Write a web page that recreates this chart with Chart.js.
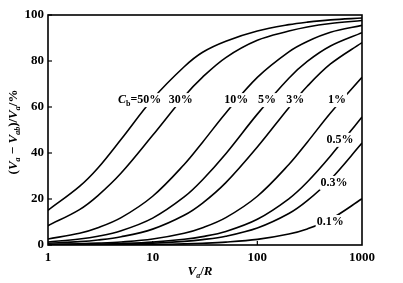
<!DOCTYPE html>
<html lang="en">
<head>
<meta charset="UTF-8">
<title>Curvas</title>
<script src="https://cdn.jsdelivr.net/npm/chart.js"></script>
<style>
  html, body { margin: 0; padding: 0; background: #fff; }
</style>
</head>
<body>
<canvas id="grafico" width="403" height="283"></canvas>
<script>
// valores (eixo x logaritmico)
const xVals = [1, 2, 3, 5, 10, 20, 30, 50, 100, 200, 300, 500, 1000];
const serieNomes = ["50%", "30%", "10%", "5%", "3%", "1%", "0.5%", "0.3%", "0.1%"];
const c50 = [15.1, 25.5, 33.5, 46, 63.5, 77.5, 83.8, 88.6, 93, 95.8, 96.9, 97.9, 98.7];
const c30 = [8.4, 15.4, 21.5, 31.3, 47.7, 64.6, 73, 81.5, 89, 93, 94.8, 96.3, 97.6];
const c10 = [2.6, 5.1, 7.5, 11.9, 21.2, 35, 44.7, 57.4, 72.9, 84, 88.5, 92.5, 95.5];
const c5 = [1.3, 2.6, 3.8, 6.2, 11.7, 20.9, 28.4, 39.7, 56.9, 72.5, 79.8, 86.5, 92.3];
const c3 = [0.74, 1.47, 2.18, 3.6, 6.9, 12.9, 18.2, 27.1, 42.6, 59.7, 69, 78.7, 88];
const c1 = [0.27, 0.54, 0.8, 1.33, 2.6, 5.1, 7.5, 11.9, 21.2, 35, 44.7, 57.4, 72.9];
const c05 = [0.13, 0.25, 0.38, 0.63, 1.25, 2.47, 3.65, 5.9, 11.2, 20.1, 27.4, 38.7, 55.7];
const c03 = [0.08, 0.16, 0.24, 0.4, 0.79, 1.57, 2.34, 3.83, 7.4, 13.7, 19.3, 28.5, 44.3];
const c01 = [0.03, 0.05, 0.08, 0.13, 0.25, 0.5, 0.75, 1.25, 2.46, 4.8, 7, 11.2, 20.1];
const xTicks = [1, 10, 100, 1000];
const yTicks = [0, 20, 40, 60, 80, 100];

const series = [c50, c30, c10, c5, c3, c1, c05, c03, c01];

// rotulos das curvas (posicao em coordenadas dos dados)
const rotulos = [
    { partes: [{ t: "C", i: 1 }, { t: "b", sub: 1 }, { t: "=50%" }], x: 7.5, y: 63 },
    { partes: [{ t: "30%" }], x: 18.5, y: 63 },
    { partes: [{ t: "10%" }], x: 63, y: 63 },
    { partes: [{ t: "5%" }], x: 124, y: 63 },
    { partes: [{ t: "3%" }], x: 230, y: 63 },
    { partes: [{ t: "1%" }], x: 578, y: 63 },
    { partes: [{ t: "0.5%" }], x: 617, y: 45.7 },
    { partes: [{ t: "0.3%" }], x: 541, y: 27 },
    { partes: [{ t: "0.1%" }], x: 496, y: 10 }
];

const FONTE = '"Liberation Serif", "DejaVu Serif", serif';

function fonte(p, tam) {
    const t = p.sub ? Math.round(tam * 0.65) : tam;
    return (p.i ? "italic " : "") + "bold " + t + "px " + FONTE;
}

function larguraRica(ctx, partes, tam) {
    let w = 0;
    partes.forEach(p => { ctx.font = fonte(p, tam); w += ctx.measureText(p.t).width; });
    return w;
}

function desenhaRico(ctx, partes, x, y, tam) {
    const total = larguraRica(ctx, partes, tam);
    let cx = x - total / 2;
    ctx.textAlign = "left";
    ctx.textBaseline = "middle";
    partes.forEach(p => {
        ctx.font = fonte(p, tam);
        ctx.fillText(p.t, cx, y + (p.sub ? tam * 0.3 : 0));
        cx += ctx.measureText(p.t).width;
    });
}

const extras = {
    id: "extras",
    beforeDraw(chart) {
        const ctx = chart.ctx;
        ctx.save();
        ctx.fillStyle = "#fff";
        ctx.fillRect(0, 0, chart.width, chart.height);
        ctx.restore();
    },
    afterDraw(chart) {
        const ctx = chart.ctx;
        const a = chart.chartArea;
        const sx = chart.scales.x, sy = chart.scales.y;
        ctx.save();
        ctx.strokeStyle = "#000";
        ctx.fillStyle = "#000";
        ctx.lineWidth = 1.6;
        ctx.strokeRect(a.left, a.top, a.right - a.left, a.bottom - a.top);

        // marcas para dentro
        ctx.lineWidth = 1.2;
        yTicks.forEach(v => {
            const py = sy.getPixelForValue(v);
            ctx.beginPath(); ctx.moveTo(a.left, py); ctx.lineTo(a.left + 4, py); ctx.stroke();
        });
        xTicks.slice(1, -1).forEach(v => {
            const px = sx.getPixelForValue(v);
            ctx.beginPath(); ctx.moveTo(px, a.bottom); ctx.lineTo(px, a.bottom - 4); ctx.stroke();
        });

        // rotulos das curvas com fundo branco
        rotulos.forEach(r => {
            const px = sx.getPixelForValue(r.x);
            const py = sy.getPixelForValue(r.y);
            const w = larguraRica(ctx, r.partes, 12);
            ctx.fillStyle = "#fff";
            ctx.fillRect(px - w / 2 - 1, py - 7, w + 2, 14);
            ctx.fillStyle = "#000";
            desenhaRico(ctx, r.partes, px, py, 12);
        });

        // titulos dos eixos
        desenhaRico(ctx, [{ t: "V", i: 1 }, { t: "a", i: 1, sub: 1 }, { t: "/" }, { t: "R", i: 1 }], 200, 272, 13);
        ctx.translate(14, 132);
        ctx.rotate(-Math.PI / 2);
        desenhaRico(ctx, [
            { t: "(" }, { t: "V", i: 1 }, { t: "a", i: 1, sub: 1 }, { t: " \u2212 " },
            { t: "V", i: 1 }, { t: "ab", i: 1, sub: 1 }, { t: ")/" },
            { t: "V", i: 1 }, { t: "a", i: 1, sub: 1 }, { t: "/%" }
        ], 0, 0, 13);
        ctx.restore();
    }
};

const datasets = series.map((s, i) => ({
    label: serieNomes[i],
    data: xVals.map((x, j) => ({ x: x, y: s[j] })),
    borderColor: "#000",
    borderWidth: 1.6,
    pointRadius: 0,
    fill: false,
    tension: 0.35
}));

new Chart(document.getElementById("grafico"), {
    type: "line",
    data: { datasets: datasets },
    options: {
        responsive: false,
        animation: false,
        devicePixelRatio: 1,
        layout: { padding: { top: 15, right: 41, left: 0, bottom: 0 } },
        plugins: { legend: { display: false }, tooltip: { enabled: false } },
        scales: {
            x: {
                type: "logarithmic",
                min: 1,
                max: 1000,
                afterBuildTicks: scale => { scale.ticks = xTicks.map(v => ({ value: v })); },
                afterFit: scale => { scale.height = 38; },
                grid: { display: false, drawTicks: false },
                border: { display: false },
                ticks: {
                    color: "#000",
                    padding: 5,
                    maxRotation: 0,
                    autoSkip: false,
                    font: { family: FONTE, size: 13, weight: "bold" },
                    callback: v => String(v)
                }
            },
            y: {
                min: 0,
                max: 100,
                afterBuildTicks: scale => { scale.ticks = yTicks.map(v => ({ value: v })); },
                afterFit: scale => { scale.width = 48; },
                grid: { display: false, drawTicks: false },
                border: { display: false },
                ticks: {
                    color: "#000",
                    padding: 4,
                    font: { family: FONTE, size: 13, weight: "bold" }
                }
            }
        }
    },
    plugins: [extras]
});
</script>
</body>
</html>
